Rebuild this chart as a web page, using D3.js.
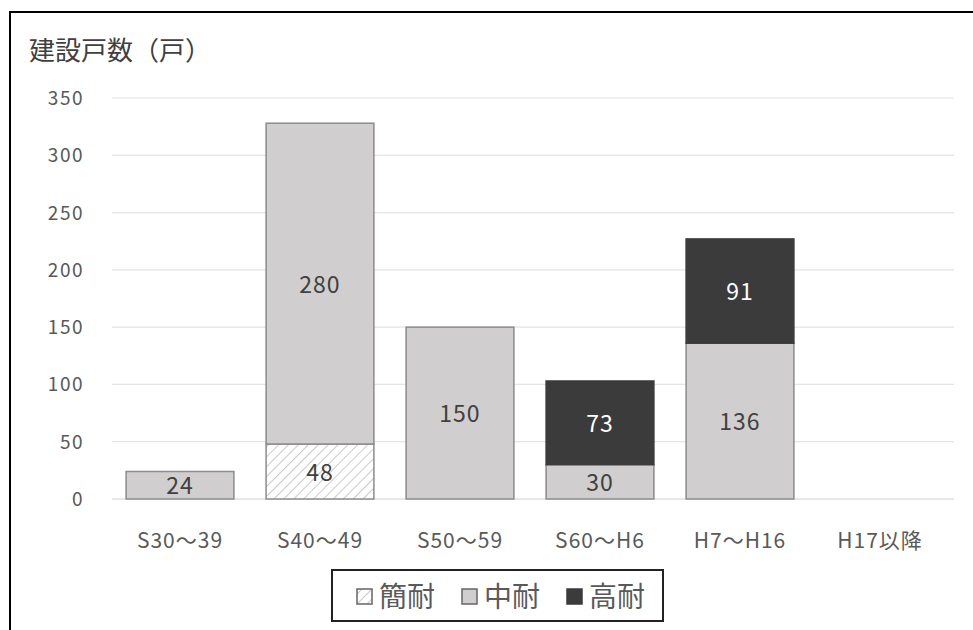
<!DOCTYPE html>
<html>
<head>
<meta charset="utf-8">
<script src="https://cdn.jsdelivr.net/npm/d3@7"></script>
<style>
  body { margin: 0; background: #fff; }
  svg text { font-family: "Noto Sans CJK JP", "Noto Sans", sans-serif; }
</style>
</head>
<body>
<svg id="chart" width="973" height="630"></svg>
<script>
const categories = ["S30〜39", "S40〜49", "S50〜59", "S60〜H6", "H7〜H16", "H17以降"];
const seriesNames = ["簡耐", "中耐", "高耐"];
const kantai = [0, 48, 0, 0, 0, 0];
const chutai = [24, 280, 150, 30, 136, 0];
const kotai = [0, 0, 0, 73, 91, 0];
const yTicks = [0, 50, 100, 150, 200, 250, 300, 350];

const svg = d3.select("#chart");

// hatch pattern for 簡耐
const defs = svg.append("defs");
const pat = defs.append("pattern")
    .attr("id", "hatch")
    .attr("patternUnits", "userSpaceOnUse")
    .attr("width", 7).attr("height", 7)
    .attr("patternTransform", "rotate(45)");
pat.append("rect").attr("width", 7).attr("height", 7).attr("fill", "#fff");
pat.append("line").attr("x1", 0).attr("y1", 0).attr("x2", 0).attr("y2", 7)
    .attr("stroke", "#b8b8b8").attr("stroke-width", 1.5);

// outer frame
svg.append("rect")
    .attr("x", 10).attr("y", 12).attr("width", 980).attr("height", 640)
    .attr("fill", "none").attr("stroke", "#000").attr("stroke-width", 2);

const x = d3.scaleBand().domain(categories).range([110, 950]).paddingInner(0.23).paddingOuter(0.115);
const y = d3.scaleLinear().domain([0, 350]).range([499, 98]);

// gridlines
svg.append("g").selectAll("line")
    .data(yTicks)
    .enter()
    .append("line")
    .attr("x1", 112).attr("x2", 954)
    .attr("y1", d => y(d)).attr("y2", d => y(d))
    .attr("stroke", d => d === 0 ? "#d0d0d0" : "#e4e4e4")
    .attr("stroke-width", 1.2);

// y axis labels
svg.append("g").selectAll("text")
    .data(yTicks)
    .enter()
    .append("text")
    .attr("x", 84)
    .attr("y", d => y(d) + 7)
    .attr("text-anchor", "end")
    .attr("font-size", "19px")
    .attr("letter-spacing", "1.5px")
    .attr("fill", "#595959")
    .text(d => d);

// axis title
svg.append("text")
    .attr("x", 29).attr("y", 60)
    .attr("font-size", "26px")
    .attr("fill", "#404040")
    .text("建設戸数（戸）");

// stack data
const data = categories.map((c, i) => ({ cat: c, kantai: kantai[i], chutai: chutai[i], kotai: kotai[i] }));
const keys = ["kantai", "chutai", "kotai"];
const fills = { kantai: "url(#hatch)", chutai: "#d0cecf", kotai: "#3b3b3b" };
const stack = d3.stack().keys(keys)(data);

const layers = svg.append("g").selectAll("g")
    .data(stack)
    .enter()
    .append("g");

layers.selectAll("rect")
    .data(d => d.map(v => ({ key: d.key, v: v })))
    .enter()
    .filter(d => d.v[1] - d.v[0] > 0)
    .append("rect")
    .attr("x", d => x(d.v.data.cat))
    .attr("width", x.bandwidth())
    .attr("y", d => y(d.v[1]))
    .attr("height", d => y(d.v[0]) - y(d.v[1]))
    .attr("fill", d => fills[d.key])
    .attr("stroke", d => d.key === "kotai" ? "#3b3b3b" : "#8c8c8c")
    .attr("stroke-width", 1.5);

// value labels
layers.selectAll("text")
    .data(d => d.map(v => ({ key: d.key, v: v })))
    .enter()
    .filter(d => d.v[1] - d.v[0] > 0)
    .append("text")
    .attr("x", d => x(d.v.data.cat) + x.bandwidth() / 2)
    .attr("y", d => (y(d.v[0]) + y(d.v[1])) / 2 + 9)
    .attr("text-anchor", "middle")
    .attr("font-size", "23px")
    .attr("letter-spacing", "1px")
    .attr("fill", d => d.key === "kotai" ? "#fff" : "#404040")
    .text(d => d.v[1] - d.v[0]);

// category labels
svg.append("g").selectAll("text")
    .data(categories)
    .enter()
    .append("text")
    .attr("x", d => x(d) + x.bandwidth() / 2)
    .attr("y", 548)
    .attr("text-anchor", "middle")
    .attr("font-size", "21px")
    .attr("letter-spacing", "1px")
    .attr("fill", "#595959")
    .text(d => d);

// legend
const lg = svg.append("g");
lg.append("rect")
    .attr("x", 332).attr("y", 570).attr("width", 331).attr("height", 51)
    .attr("fill", "#fff").attr("stroke", "#222").attr("stroke-width", 2);
const legX = [357, 462, 567];
const legFill = ["url(#hatch)", "#d0cecf", "#3b3b3b"];
seriesNames.forEach((n, i) => {
    lg.append("rect")
        .attr("x", legX[i]).attr("y", 589).attr("width", 15).attr("height", 15)
        .attr("fill", legFill[i])
        .attr("stroke", i === 2 ? "#3b3b3b" : "#666").attr("stroke-width", 1.5);
    lg.append("text")
        .attr("x", legX[i] + 22).attr("y", 607)
        .attr("font-size", "28px")
        .attr("fill", "#595959")
        .text(n);
});
</script>
</body>
</html>
